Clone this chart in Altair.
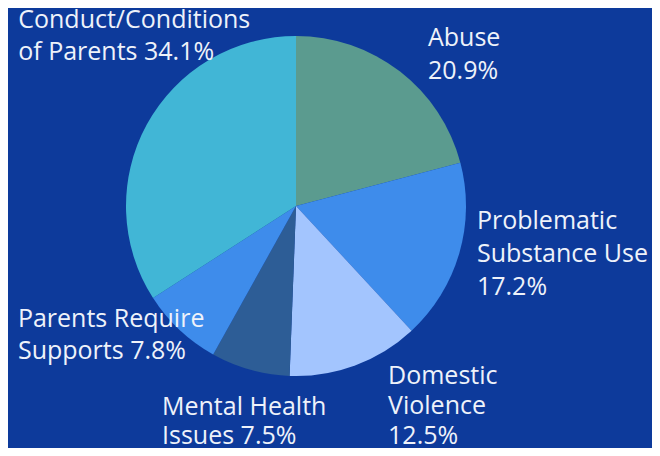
import altair as alt
import pandas as pd

categories = ["Abuse", "Problematic Substance Use", "Domestic Violence",
              "Mental Health Issues", "Parents Require Supports",
              "Conduct/Conditions of Parents"]
values = [20.9, 17.2, 12.5, 7.5, 7.8, 34.1]
labels = ["Abuse\n20.9%", "Problematic\nSubstance Use\n17.2%",
          "Domestic\nViolence\n12.5%", "Mental Health\nIssues 7.5%",
          "Parents Require\nSupports 7.8%", "Conduct/Conditions\nof Parents 34.1%"]
colors = ["#5b9b8f", "#3e8ceb", "#a3c5fe", "#2d5d96", "#3e8ceb", "#41b6d6"]

df = pd.DataFrame({"category": categories, "value": values, "label": labels,
                   "order": list(range(len(categories)))})
cum = df["value"].cumsum()
df["mid"] = cum - df["value"] / 2

CX, CY, R = 288, 198, 170
BG = "#0d3a9b"
# label offsets from a point on the mid-angle, and line height (style only)
label_style = {
    "Abuse": (16, -9.5, 33),
    "Problematic Substance Use": (-1.5, -30, 33),
    "Domestic Violence": (26, 0, 30),
    "Mental Health Issues": (-82.7, 26, 29),
    "Parents Require Supports": (-148, -17.5, 32),
    "Conduct/Conditions of Parents": (-111, -87, 32),
}

pie = alt.Chart(df).mark_arc(outerRadius=R, stroke=None).encode(
    theta=alt.Theta("value:Q", stack=True, scale=alt.Scale(domain=[0, 100])),
    color=alt.Color("category:N", scale=alt.Scale(domain=categories, range=colors), legend=None),
    order=alt.Order("order:Q"),
    x=alt.value(CX), y=alt.value(CY),
)

texts = []
for cat in categories:
    dx, dy, lh = label_style[cat]
    t = alt.Chart(df).transform_filter(alt.datum.category == cat).mark_text(
        radius=190, dx=dx, dy=dy, align="left", baseline="alphabetic",
        lineBreak="\n", lineHeight=lh, font="Open Sans", fontSize=25,
        color="#eef2fa"
    ).encode(
        theta=alt.Theta("mid:Q", stack=None, scale=alt.Scale(domain=[0, 100])),
        text="label:N",
        x=alt.value(CX), y=alt.value(CY),
    )
    texts.append(t)

chart = alt.layer(pie, *texts).properties(
    width=644, height=440, background=BG, padding=0,
    autosize=alt.AutoSizeParams(type="none")
).configure_view(stroke=None)

chart.save("out.html", embed_options={"renderer": "svg", "actions": False})
